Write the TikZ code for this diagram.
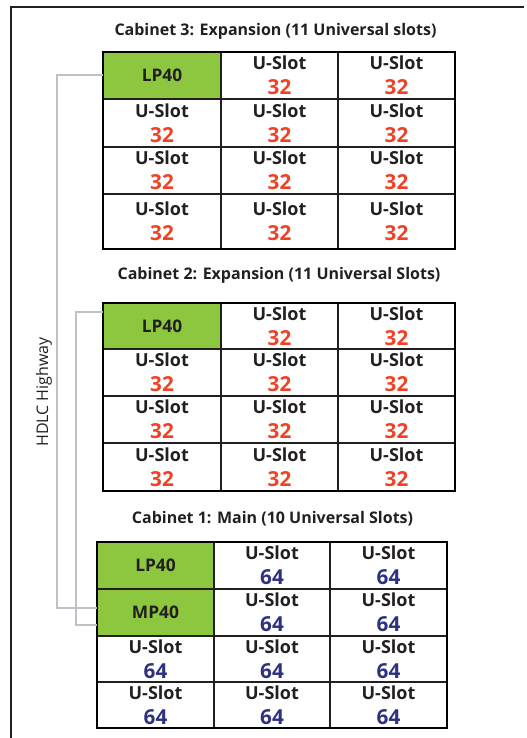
\documentclass[tikz,border=0pt]{standalone}
\usepackage{fontspec}
\setmainfont{Open Sans}
\usepackage{tikz}
\definecolor{lpgreen}{RGB}{141,198,63}
\definecolor{slotred}{RGB}{239,65,35}
\definecolor{slotblue}{RGB}{46,49,128}
\definecolor{hdlcgray}{RGB}{192,192,198}
\definecolor{ink}{RGB}{35,31,32}
\newcommand{\redno}[1]{{\fontsize{15.5}{19}\selectfont\color{slotred}#1}}
\newcommand{\blueno}[1]{{\fontsize{15.5}{19}\selectfont\color{slotblue}#1}}

\begin{document}
\begin{tikzpicture}[x=0.75pt,y=0.75pt,yscale=-1,xscale=1,
  slot/.style={font=\fontsize{13.5}{19}\selectfont\bfseries, text=ink, align=center, inner sep=0pt},
  card/.style={fill=lpgreen, minimum width=87.75pt, minimum height=35.25pt, inner sep=0pt, text=ink, font=\fontsize{13}{16}\selectfont\bfseries},
  title/.style={font=\fontsize{12}{14}\selectfont\bfseries, text=ink},
  grid/.style={line width=1.1pt, color=ink},
  box/.style={line width=2.2pt, color=black},
  hdlc/.style={color=hdlcgray, line width=1.5pt}]
\useasboundingbox (0,0) rectangle (527,738);

%Frame
\draw [line width=1.9pt, color=ink] (11,738) -- (11,7) -- (524,7) ;

%Cabinet 3
\draw (275.5,31) node [title] (t3) {Cabinet 3: Expansion (11 Universal slots)};
\draw (162,75.5) node [card] (lp3) {LP40};
\draw [grid] (221,52) -- (221,249) (338,52) -- (338,249) (103,99) -- (455,99) (103,147) -- (455,147) (103,194) -- (455,194) ;
\draw [box] (103,52) rectangle (455,249) ;
\draw (279.5,75.5) node [slot] (s3a) {U-Slot\\\redno{32}};
\draw (396.5,75.5) node [slot] (s3b) {U-Slot\\\redno{32}};
\draw (162,123) node [slot] (s3c) {U-Slot\\\redno{32}};
\draw (279.5,123) node [slot] (s3d) {U-Slot\\\redno{32}};
\draw (396.5,123) node [slot] (s3e) {U-Slot\\\redno{32}};
\draw (162,170.5) node [slot] (s3f) {U-Slot\\\redno{32}};
\draw (279.5,170.5) node [slot] (s3g) {U-Slot\\\redno{32}};
\draw (396.5,170.5) node [slot] (s3h) {U-Slot\\\redno{32}};
\draw (162,221.5) node [slot] (s3i) {U-Slot\\\redno{32}};
\draw (279.5,221.5) node [slot] (s3j) {U-Slot\\\redno{32}};
\draw (396.5,221.5) node [slot] (s3k) {U-Slot\\\redno{32}};

%Cabinet 2
\draw (279,275) node [title] (t2) {Cabinet 2: Expansion (11 Universal Slots)};
\draw (162,326) node [card] (lp2) {LP40};
\draw [grid] (221,303) -- (221,491) (338,303) -- (338,491) (103,349) -- (455,349) (103,396) -- (455,396) (103,443) -- (455,443) ;
\draw [box] (103,303) rectangle (455,491) ;
\draw (279.5,326) node [slot] (s2a) {U-Slot\\\redno{32}};
\draw (396.5,326) node [slot] (s2b) {U-Slot\\\redno{32}};
\draw (162,372.5) node [slot] (s2c) {U-Slot\\\redno{32}};
\draw (279.5,372.5) node [slot] (s2d) {U-Slot\\\redno{32}};
\draw (396.5,372.5) node [slot] (s2e) {U-Slot\\\redno{32}};
\draw (162,419.5) node [slot] (s2f) {U-Slot\\\redno{32}};
\draw (279.5,419.5) node [slot] (s2g) {U-Slot\\\redno{32}};
\draw (396.5,419.5) node [slot] (s2h) {U-Slot\\\redno{32}};
\draw (162,467) node [slot] (s2i) {U-Slot\\\redno{32}};
\draw (279.5,467) node [slot] (s2j) {U-Slot\\\redno{32}};
\draw (396.5,467) node [slot] (s2k) {U-Slot\\\redno{32}};

%Cabinet 1
\draw (272.5,519) node [title] (t1) {Cabinet 1: Main (10 Universal Slots)};
\draw (155.5,565.5) node [card] (lp1) {LP40};
\draw (155.5,612.5) node [card] (mp1) {MP40};
\draw [grid] (214,542) -- (214,728) (330,542) -- (330,728) (97,589) -- (447,589) (97,636) -- (447,636) (97,682) -- (447,682) ;
\draw [box] (97,542) rectangle (447,728) ;
\draw (272,565.5) node [slot] (s1a) {U-Slot\\\blueno{64}};
\draw (388.5,565.5) node [slot] (s1b) {U-Slot\\\blueno{64}};
\draw (272,612.5) node [slot] (s1c) {U-Slot\\\blueno{64}};
\draw (388.5,612.5) node [slot] (s1d) {U-Slot\\\blueno{64}};
\draw (155.5,659) node [slot] (s1e) {U-Slot\\\blueno{64}};
\draw (272,659) node [slot] (s1f) {U-Slot\\\blueno{64}};
\draw (388.5,659) node [slot] (s1g) {U-Slot\\\blueno{64}};
\draw (155.5,705) node [slot] (s1h) {U-Slot\\\blueno{64}};
\draw (272,705) node [slot] (s1i) {U-Slot\\\blueno{64}};
\draw (388.5,705) node [slot] (s1j) {U-Slot\\\blueno{64}};

%HDLC links
\draw [hdlc] (lp3.west) -- ++(-46,0) |- ([yshift=-3.75pt]mp1.west) ;
\draw [hdlc] ([yshift=-10.5pt]lp2.west) -- ++(-27,0) |- ([yshift=9pt]mp1.west) ;

% Text Node
\draw (44,392) node [rotate=90, font=\fontsize{12}{14}\selectfont, text=ink] (hw) {HDLC Highway};

\end{tikzpicture}
\end{document}
